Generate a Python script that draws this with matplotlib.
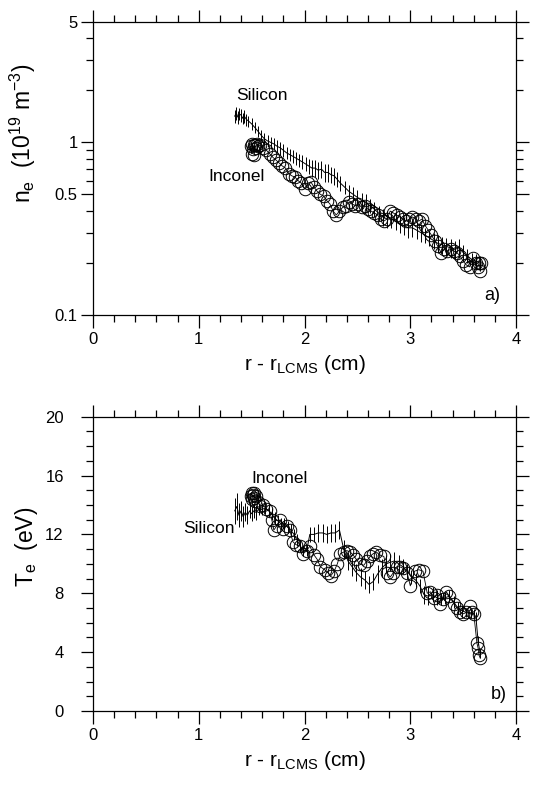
import matplotlib
matplotlib.use("Agg")
import matplotlib.pyplot as plt
from matplotlib.ticker import FixedLocator, MultipleLocator, NullFormatter

plt.rcParams['font.family'] = ['Liberation Sans', 'DejaVu Sans']
plt.rcParams['mathtext.default'] = 'regular'

# ---- panel a) density, silicon probe (line + vertical error bars)
si_a_x = [1.34, 1.355, 1.37, 1.385, 1.40, 1.415, 1.43, 1.45, 1.47, 1.50, 1.53, 1.56, 1.59, 1.62,
          1.65, 1.68, 1.71, 1.74, 1.77, 1.80, 1.83, 1.86, 1.89, 1.92, 1.95, 1.98, 2.01, 2.04,
          2.07, 2.10, 2.13, 2.16, 2.19, 2.22, 2.25, 2.28, 2.31, 2.34, 2.38, 2.42, 2.46, 2.50,
          2.54, 2.58, 2.62, 2.66, 2.70, 2.74, 2.78, 2.82, 2.86, 2.90, 2.94, 2.98, 3.02, 3.06,
          3.10, 3.14, 3.18, 3.22, 3.26, 3.30, 3.34, 3.38, 3.42, 3.46, 3.50, 3.54, 3.58, 3.62, 3.66]
si_a_y = [1.42, 1.48, 1.40, 1.46, 1.44, 1.38, 1.42, 1.36, 1.33, 1.28, 1.22, 1.16, 1.10, 1.05,
          1.02, 1.00, 0.98, 0.95, 0.93, 0.90, 0.87, 0.85, 0.83, 0.81, 0.79, 0.77, 0.75, 0.73,
          0.71, 0.71, 0.69, 0.70, 0.67, 0.67, 0.65, 0.64, 0.61, 0.58, 0.55, 0.52, 0.50, 0.48,
          0.46, 0.45, 0.43, 0.41, 0.39, 0.37, 0.36, 0.36, 0.35, 0.34, 0.33, 0.32, 0.32, 0.31,
          0.30, 0.29, 0.28, 0.27, 0.26, 0.255, 0.25, 0.245, 0.24, 0.245, 0.23, 0.22, 0.21, 0.205, 0.20]
si_a_err = [0.12, 0.13, 0.12, 0.12, 0.12, 0.11, 0.12, 0.11, 0.10, 0.10, 0.09, 0.09, 0.08, 0.08,
            0.08, 0.08, 0.08, 0.08, 0.08, 0.08, 0.07, 0.07, 0.07, 0.07, 0.07, 0.07, 0.07, 0.07,
            0.08, 0.08, 0.08, 0.08, 0.08, 0.08, 0.07, 0.07, 0.06, 0.06, 0.05, 0.05, 0.05, 0.05,
            0.05, 0.05, 0.04, 0.04, 0.04, 0.04, 0.04, 0.04, 0.04, 0.04, 0.04, 0.04, 0.035, 0.035,
            0.035, 0.03, 0.03, 0.03, 0.03, 0.03, 0.03, 0.03, 0.03, 0.03, 0.025, 0.02, 0.02, 0.02, 0.02]

# ---- panel a) density, inconel probe (open circles)
in_a_x = [1.49, 1.50, 1.505, 1.51, 1.52, 1.525, 1.53, 1.54, 1.55, 1.56, 1.58, 1.61, 1.64, 1.67,
          1.70, 1.73, 1.76, 1.79, 1.82, 1.85, 1.88, 1.91, 1.94, 1.97, 2.00, 2.03, 2.06, 2.09,
          2.12, 2.15, 2.18, 2.21, 2.24, 2.27, 2.30, 2.33, 2.36, 2.39, 2.42, 2.45, 2.48, 2.51,
          2.54, 2.57, 2.60, 2.63, 2.66, 2.69, 2.72, 2.75, 2.78, 2.81, 2.84, 2.87, 2.90, 2.93,
          2.96, 2.99, 3.02, 3.05, 3.08, 3.11, 3.14, 3.17, 3.20, 3.23, 3.26, 3.29, 3.32, 3.35,
          3.38, 3.41, 3.44, 3.47, 3.50, 3.53, 3.56, 3.59, 3.62, 3.64, 3.65, 3.66, 3.67]
in_a_y = [0.95, 0.86, 0.98, 0.92, 0.96, 0.85, 0.97, 0.93, 0.98, 0.95, 0.96, 0.93, 0.90, 0.86,
          0.82, 0.79, 0.76, 0.73, 0.71, 0.66, 0.64, 0.63, 0.60, 0.58, 0.54, 0.58, 0.59, 0.55,
          0.52, 0.50, 0.49, 0.46, 0.44, 0.40, 0.38, 0.40, 0.42, 0.43, 0.45, 0.44, 0.43, 0.44,
          0.42, 0.43, 0.41, 0.40, 0.39, 0.38, 0.36, 0.35, 0.36, 0.40, 0.39, 0.38, 0.37, 0.36,
          0.35, 0.36, 0.37, 0.36, 0.35, 0.36, 0.33, 0.31, 0.29, 0.27, 0.25, 0.23, 0.24, 0.235,
          0.24, 0.235, 0.23, 0.22, 0.205, 0.195, 0.19, 0.215, 0.20, 0.19, 0.20, 0.18, 0.20]

# ---- panel b) temperature, silicon probe
si_b_x = [1.34, 1.36, 1.38, 1.40, 1.42, 1.44, 1.46, 1.48, 1.50, 1.52, 1.54, 1.57, 1.60, 1.63,
          1.66, 1.69, 1.72, 1.75, 1.78, 1.81, 1.84, 1.87, 1.90, 1.93, 1.96, 1.99, 2.02, 2.05,
          2.09, 2.13, 2.17, 2.21, 2.25, 2.29, 2.33, 2.37, 2.41, 2.45, 2.49, 2.53, 2.57, 2.61,
          2.65, 2.69, 2.73, 2.77, 2.81, 2.85, 2.89, 2.93, 2.97, 3.01, 3.05, 3.09, 3.13, 3.17,
          3.21, 3.25, 3.29, 3.33, 3.37, 3.41, 3.45, 3.49, 3.53, 3.57, 3.60, 3.62, 3.64, 3.66]
si_b_y = [13.6, 13.9, 13.3, 13.6, 13.2, 13.5, 13.3, 13.6, 13.4, 13.6, 13.5, 13.7, 13.7, 13.8,
          13.6, 13.4, 13.1, 12.9, 12.7, 12.7, 12.5, 12.3, 12.0, 11.6, 11.2, 10.9, 10.9, 12.0,
          12.0, 12.1, 12.1, 12.0, 12.1, 12.1, 12.3, 11.0, 10.2, 9.8, 9.4, 9.1, 8.9, 8.6,
          8.8, 9.3, 9.7, 10.0, 10.1, 10.2, 10.0, 9.8, 9.5, 9.1, 8.9, 8.5, 7.9, 7.8,
          7.9, 7.7, 7.6, 7.7, 7.8, 7.4, 7.0, 6.8, 6.7, 6.6, 6.6, 6.4, 4.8, 3.9]
si_b_err = [0.9, 0.9, 0.8, 0.7, 0.7, 0.6, 0.6, 0.5, 0.5, 0.5, 0.5, 0.4, 0.4, 0.4,
            0.4, 0.4, 0.4, 0.4, 0.4, 0.4, 0.4, 0.4, 0.4, 0.4, 0.4, 0.4, 0.4, 0.5,
            0.5, 0.6, 0.6, 0.6, 0.6, 0.6, 0.6, 0.6, 0.6, 0.6, 0.6, 0.6, 0.6, 0.6,
            0.6, 0.6, 0.6, 0.6, 0.6, 0.6, 0.6, 0.5, 0.5, 0.5, 0.5, 0.5, 0.6, 0.6,
            0.5, 0.5, 0.4, 0.4, 0.4, 0.4, 0.4, 0.4, 0.3, 0.3, 0.3, 0.3, 0.3, 0.3]

# ---- panel b) temperature, inconel probe
in_b_x = [1.49, 1.50, 1.505, 1.51, 1.52, 1.525, 1.53, 1.54, 1.56, 1.58, 1.61, 1.64, 1.67, 1.69,
          1.71, 1.74, 1.77, 1.80, 1.83, 1.86, 1.89, 1.92, 1.96, 1.99, 2.02, 2.05, 2.09, 2.12,
          2.15, 2.19, 2.22, 2.25, 2.28, 2.31, 2.34, 2.37, 2.40, 2.43, 2.46, 2.49, 2.52, 2.56,
          2.59, 2.62, 2.65, 2.68, 2.71, 2.75, 2.78, 2.81, 2.84, 2.87, 2.90, 2.93, 2.97, 3.00,
          3.04, 3.08, 3.12, 3.16, 3.19, 3.22, 3.25, 3.28, 3.31, 3.34, 3.37, 3.41, 3.44, 3.47,
          3.50, 3.53, 3.56, 3.58, 3.60, 3.63, 3.64, 3.65, 3.66]
in_b_y = [14.6, 14.8, 14.4, 14.7, 14.5, 14.8, 14.3, 14.6, 14.2, 13.9, 14.0, 13.7, 13.6, 13.0,
          12.3, 12.6, 13.0, 12.4, 12.6, 12.3, 11.5, 11.3, 11.2, 10.7, 10.9, 11.2, 10.6, 10.3,
          9.8, 9.6, 9.4, 9.2, 9.5, 10.0, 10.7, 10.8, 10.9, 10.8, 10.6, 10.3, 10.0, 9.9,
          10.2, 10.5, 10.7, 10.8, 10.6, 10.5, 9.4, 9.1, 9.4, 9.8, 9.8, 9.7, 9.4, 8.5,
          9.5, 9.6, 9.5, 8.0, 8.1, 7.7, 7.9, 7.3, 7.6, 8.1, 7.8, 7.3, 7.0, 6.75,
          6.6, 6.7, 7.1, 6.7, 6.6, 4.6, 4.3, 3.8, 3.6]

fig = plt.figure(figsize=(5.39, 7.85), dpi=100)
ax_a = fig.add_axes([0.1725, 0.5987, 0.785, 0.3736])
ax_b = fig.add_axes([0.1725, 0.0943, 0.785, 0.3749])

err_style = dict(fmt='-', color='black', lw=0.7, elinewidth=0.7, capsize=0)
circ_style = dict(marker='o', mfc='none', mec='black', ms=9, mew=0.7, color='black', lw=0.6)

# --- a) density
ax_a.errorbar(si_a_x, si_a_y, yerr=si_a_err, **err_style)
ax_a.plot(in_a_x, in_a_y, **circ_style)
ax_a.set_yscale('log')
ax_a.set_ylim(0.1, 5)
ax_a.yaxis.set_major_locator(FixedLocator([0.1, 0.5, 1, 5]))
ax_a.set_yticklabels(['0.1', '0.5', '1', '5'])
ax_a.yaxis.set_minor_locator(FixedLocator([0.2, 0.3, 0.4, 0.6, 0.7, 0.8, 0.9, 2, 3, 4]))
ax_a.yaxis.set_minor_formatter(NullFormatter())
ax_a.set_ylabel(r'n$_{e}$  (10$^{19}$ m$^{-3}$)', fontsize=16.5)
ax_a.yaxis.set_label_coords(-0.13, 0.62)
ax_a.text(1.6, 1.75, 'Silicon', fontsize=12.5, ha='center')
ax_a.text(1.36, 0.60, 'Inconel', fontsize=12.5, ha='center')
ax_a.text(3.85, 0.122, 'a)', fontsize=13, ha='right')
ax_a.tick_params(axis='y', which='major', pad=2)

# --- b) temperature
ax_b.errorbar(si_b_x, si_b_y, yerr=si_b_err, **err_style)
ax_b.plot(in_b_x, in_b_y, **circ_style)
ax_b.set_ylim(0, 20)
ax_b.yaxis.set_major_locator(MultipleLocator(4))
ax_b.yaxis.set_minor_locator(MultipleLocator(1))
ax_b.set_ylabel(r'T$_{e}$  (eV)', fontsize=16.5)
ax_b.yaxis.set_label_coords(-0.125, 0.557)
ax_b.text(1.76, 15.5, 'Inconel', fontsize=12.5, ha='center')
ax_b.text(1.34, 12.1, 'Silicon', fontsize=12.5, ha='right')
ax_b.text(3.91, 0.8, 'b)', fontsize=13, ha='right')
ax_b.tick_params(axis='y', which='major', pad=12)

for ax in (ax_a, ax_b):
    ax.set_xlim(0, 4)
    ax.xaxis.set_major_locator(MultipleLocator(1))
    ax.xaxis.set_minor_locator(MultipleLocator(0.2))
    ax.set_xlabel(r'r - r$_{LCMS}$ (cm)', fontsize=15, labelpad=4)
    ax.tick_params(which='both', direction='out', top=True, right=True,
                   labelsize=12, width=0.9)
    ax.tick_params(which='major', length=9)
    ax.tick_params(which='minor', length=5)
    for s in ax.spines.values():
        s.set_linewidth(0.9)

fig.savefig('out.png', dpi=100)
